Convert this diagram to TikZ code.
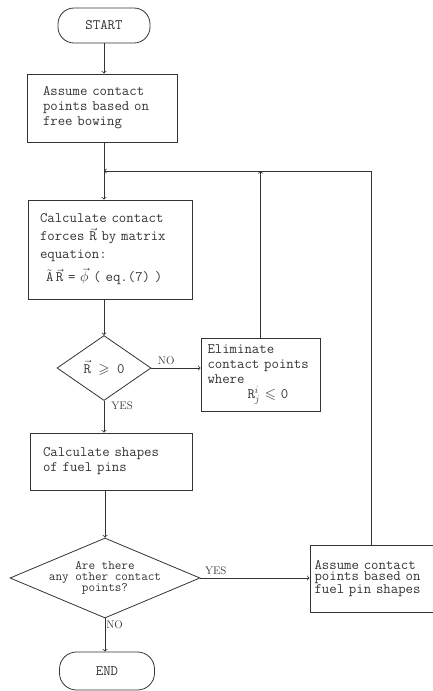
\documentclass[tikz,border=0pt]{standalone}
\usepackage{fontspec}
\usepackage{amssymb}
\usetikzlibrary{shapes.geometric}

\begin{document}
\begin{tikzpicture}[x=1pt, y=-1pt, line width=0.8pt, color=black!80,
terminal/.style={draw, rounded corners=16pt, font=\fontsize{14.4}{15}\ttfamily},
box/.style={draw, align=left, font=\fontsize{14.4}{15}\ttfamily},
decision/.style={draw, diamond, inner sep=0pt, align=center},
answer/.style={font=\fontsize{11}{12}\selectfont, inner sep=1pt},
flow/.style={->}]

\useasboundingbox (0,0) rectangle (433,691);

%main column
\node[terminal, minimum width=92, minimum height=35] (start) at (104,25.5) {START};
\node[box, text width=118, inner xsep=16, minimum height=68] (assume) at (102,108)
  {Assume contact\\points based on\\free bowing};
\coordinate (join) at (104,171);
\node[box, text width=140, inner xsep=12, minimum height=99, font=\fontsize{14.4}{18}\ttfamily] (calc) at (110,249.5)
  {Calculate contact\\forces $\vec{\mathtt{R}}$ by matrix\\equation:\\[5pt]\hspace*{6pt}$\tilde{\mathtt{A}}\,\vec{\mathtt{R}}$ = $\vec{\phi}$ ( eq.(7) )};
\node[decision, aspect=1.45, minimum width=94, minimum height=65, font=\fontsize{14.4}{15}\ttfamily] (check) at (104,368)
  {$\vec{\mathtt{R}}$ $\geqslant$ 0};
\node[box, text width=136, inner xsep=13, minimum height=57] (shapes) at (111,461.5)
  {Calculate shapes\\of fuel pins};
\node[decision, aspect=2.375, minimum width=190, minimum height=80, font=\fontsize{12.8}{11}\ttfamily] (more) at (105,578)
  {Are there\\any other contact\\points?};
\node[terminal, rounded corners=17pt, minimum width=95, minimum height=38] (stop) at (107,671) {END};

%side boxes
\node[box, text width=106, inner xsep=6.5, minimum height=73] (elim) at (260.5,374.5)
  {Eliminate\\contact points\\where\\\hspace*{40pt}$\mathtt{R}^{i}_{j}$ $\leqslant$ 0};
\node[box, text width=114, inner xsep=4.5, minimum height=67, font=\fontsize{14.4}{11.6}\ttfamily] (reassume) at (371.5,578.5)
  {Assume contact\\points based on\\fuel pin shapes};

%connectors
\draw[flow] (start.south) -- (start.south |- assume.north);
\draw (assume.south -| join) -- (join);
\draw[flow] (join) -- (join |- calc.north);
\draw[flow] (calc.south -| check.north) -- (check.north);
\draw[flow] (check.east) -- (check.east -| elim.west) node[answer, pos=0.3, above, yshift=2pt]{NO};
\draw[flow] (check.south) -- (check.south |- shapes.north) node[answer, pos=0.15, right, xshift=6pt]{YES};
\draw[flow] (elim.north) -- (elim.north |- join);
\draw[flow] (shapes.south -| more.north) -- (more.north);
\draw[flow] (more.east) -- (more.east -| reassume.west) node[answer, pos=0.14, above, yshift=2pt]{YES};
\draw[flow] (more.south) -- (more.south |- stop.north) node[answer, pos=0.2, right]{NO};
\draw[flow] (reassume.north) |- (join);

\end{tikzpicture}
\end{document}
